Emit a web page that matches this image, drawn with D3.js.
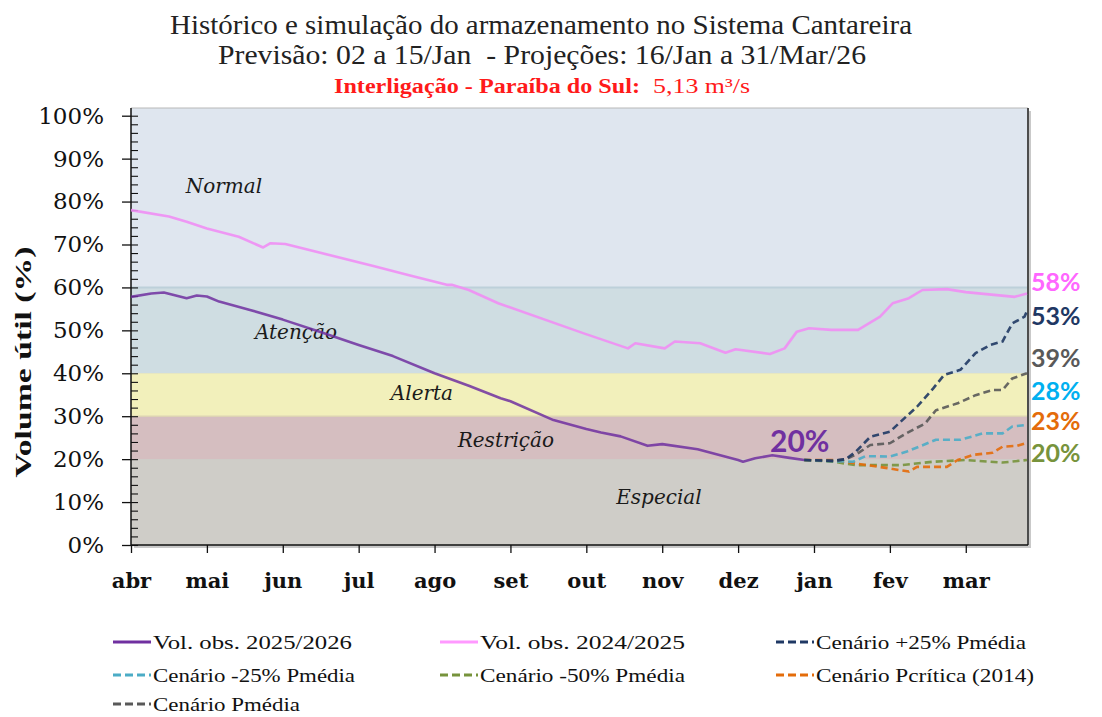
<!DOCTYPE html>
<html>
<head>
<meta charset="utf-8">
<script src="https://cdn.jsdelivr.net/npm/d3@7"></script>
<style>
  body { margin: 0; background: #fff; }
  svg { display: block; }
</style>
</head>
<body>
<script>
// ---- data ----
var monthLabels = ["abr", "mai", "jun", "jul", "ago", "set", "out", "nov", "dez", "jan", "fev", "mar"];
var yTicks = [0, 10, 20, 30, 40, 50, 60, 70, 80, 90, 100];

var zoneNames = ["Normal", "Atenção", "Alerta", "Restrição", "Especial"];
var zoneLimits = [[60, 100], [40, 60], [30, 40], [20, 30], [0, 20]];

var obs2025 = [
  ["2025-04-01", 57.8], ["2025-04-09", 58.6], ["2025-04-14", 58.8], ["2025-04-23", 57.5],
  ["2025-04-27", 58.1], ["2025-05-01", 57.9], ["2025-05-06", 56.7], ["2025-05-19", 54.7],
  ["2025-06-01", 52.5], ["2025-06-15", 49.8], ["2025-07-01", 46.6], ["2025-07-15", 44.0],
  ["2025-08-01", 40.0], ["2025-08-15", 37.1], ["2025-08-28", 34.2], ["2025-09-01", 33.5],
  ["2025-09-18", 29.1], ["2025-10-01", 27.0], ["2025-10-07", 26.2], ["2025-10-15", 25.3],
  ["2025-10-26", 23.1], ["2025-11-01", 23.5], ["2025-11-15", 22.3], ["2025-12-01", 19.8],
  ["2025-12-03", 19.4], ["2025-12-08", 20.2], ["2025-12-15", 20.9], ["2025-12-22", 20.3],
  ["2025-12-28", 19.8]
];

var obs2024 = [
  ["2025-04-01", 78.0], ["2025-04-16", 76.5], ["2025-04-23", 75.3], ["2025-05-01", 73.7],
  ["2025-05-14", 71.8], ["2025-05-24", 69.3], ["2025-05-27", 70.3], ["2025-06-02", 70.1],
  ["2025-07-07", 65.0], ["2025-07-22", 62.8], ["2025-08-06", 60.6], ["2025-08-08", 60.6],
  ["2025-08-15", 59.4], ["2025-08-27", 56.3], ["2025-09-30", 49.3], ["2025-10-18", 45.8],
  ["2025-10-21", 47.0], ["2025-11-02", 45.8], ["2025-11-06", 47.4], ["2025-11-16", 47.0],
  ["2025-11-26", 44.8], ["2025-11-30", 45.6], ["2025-12-14", 44.5], ["2025-12-20", 45.8],
  ["2025-12-25", 49.7], ["2025-12-30", 50.5], ["2026-01-08", 50.1], ["2026-01-19", 50.1],
  ["2026-01-28", 53.2], ["2026-02-02", 56.3], ["2026-02-08", 57.5], ["2026-02-13", 59.4],
  ["2026-02-22", 59.6], ["2026-03-01", 58.9], ["2026-03-21", 57.8], ["2026-03-26", 58.6]
];

var cenMais25 = [
  ["2025-12-28", 19.8], ["2026-01-09", 19.6], ["2026-01-14", 20.0], ["2026-01-18", 21.7],
  ["2026-01-24", 25.2], ["2026-02-01", 26.4], ["2026-02-07", 29.9], ["2026-02-11", 32.2],
  ["2026-02-17", 36.5], ["2026-02-21", 39.6], ["2026-02-27", 40.8], ["2026-03-05", 44.7],
  ["2026-03-11", 46.6], ["2026-03-16", 47.4], ["2026-03-20", 51.6], ["2026-03-25", 53.2],
  ["2026-03-26", 54.5]
];
var cenMenos25 = [
  ["2025-12-28", 19.8], ["2026-01-09", 19.5], ["2026-01-17", 19.4], ["2026-01-22", 20.7],
  ["2026-02-01", 20.6], ["2026-02-07", 21.7], ["2026-02-18", 24.5], ["2026-02-27", 24.5],
  ["2026-03-08", 26.0], ["2026-03-16", 26.0], ["2026-03-20", 27.6], ["2026-03-26", 28.0]
];
var cenMenos50 = [
  ["2025-12-28", 19.8], ["2026-01-09", 19.4], ["2026-01-18", 18.6], ["2026-02-05", 18.6],
  ["2026-02-17", 19.4], ["2026-03-01", 19.8], ["2026-03-16", 19.2], ["2026-03-26", 19.8]
];
var cenCritica = [
  ["2025-12-28", 19.8], ["2026-01-09", 19.8], ["2026-01-18", 19.0], ["2026-01-31", 17.9],
  ["2026-02-08", 17.1], ["2026-02-11", 18.2], ["2026-02-22", 18.2], ["2026-02-26", 19.8],
  ["2026-03-04", 21.0], ["2026-03-12", 21.5], ["2026-03-16", 22.9], ["2026-03-22", 23.1],
  ["2026-03-26", 23.8]
];
var cenMedia = [
  ["2025-12-28", 19.8], ["2026-01-09", 19.6], ["2026-01-14", 20.0], ["2026-01-18", 21.0],
  ["2026-01-24", 23.3], ["2026-02-01", 23.7], ["2026-02-07", 26.0], ["2026-02-14", 28.3],
  ["2026-02-18", 31.4], ["2026-02-26", 33.0], ["2026-03-05", 34.9], ["2026-03-12", 36.1],
  ["2026-03-16", 36.1], ["2026-03-20", 38.8], ["2026-03-26", 40.0]
];

var seriesNames = ["Vol. obs. 2025/2026", "Vol. obs. 2024/2025", "Cenário +25% Pmédia",
  "Cenário -25% Pmédia", "Cenário -50% Pmédia", "Cenário Pcrítica (2014)", "Cenário Pmédia"];
var endLabels = ["58%", "53%", "39%", "28%", "23%", "20%"];
var currentLabel = "20%";

// ---- layout / style ----
var W = 1102, H = 717;
var plotL = 131, plotR = 1028, plotT = 108, plotB = 545;

var svg = d3.select("body").append("svg")
  .attr("width", W)
  .attr("height", H);

function monthPos(s) {
  var p = s.split("-").map(Number);
  var dim = new Date(p[0], p[1], 0).getDate();
  return (p[0] - 2025) * 12 + (p[1] - 4) + (p[2] - 1) / dim;
}

var x = d3.scaleLinear().domain([0, 11.82]).range([plotL, plotR]);
var y = d3.scaleLinear().domain([0, 100]).range([plotB, 115.7]);

// title
var serif = "'Liberation Serif', serif";
svg.append("text")
  .attr("x", 541).attr("y", 34)
  .attr("text-anchor", "middle")
  .attr("font-family", serif).attr("font-size", 27)
  .attr("textLength", 742).attr("lengthAdjust", "spacingAndGlyphs")
  .attr("fill", "#222")
  .text("Histórico e simulação do armazenamento no Sistema Cantareira");
svg.append("text")
  .attr("x", 542).attr("y", 64)
  .attr("text-anchor", "middle")
  .attr("font-family", serif).attr("font-size", 27)
  .attr("textLength", 648).attr("lengthAdjust", "spacingAndGlyphs")
  .attr("fill", "#222")
  .style("white-space", "pre")
  .text("Previsão: 02 a 15/Jan  - Projeções: 16/Jan a 31/Mar/26");
svg.append("text")
  .attr("x", 334).attr("y", 93)
  .attr("font-family", serif).attr("font-size", 20).attr("font-weight", "bold")
  .attr("textLength", 306).attr("lengthAdjust", "spacingAndGlyphs")
  .attr("fill", "#ff1a1a")
  .text("Interligação - Paraíba do Sul:");
svg.append("text")
  .attr("x", 653).attr("y", 93)
  .attr("font-family", serif).attr("font-size", 21)
  .attr("textLength", 97).attr("lengthAdjust", "spacingAndGlyphs")
  .attr("fill", "#ff1a1a")
  .text("5,13 m³/s");

// plot frame shadow + zones
svg.append("rect")
  .attr("x", plotL + 3).attr("y", plotT + 3)
  .attr("width", plotR - plotL).attr("height", plotB - plotT)
  .attr("fill", "#c9c9c9");

var zoneColors = ["#dfe6ef", "#cfdde2", "#f2f0bb", "#d5bec0", "#cfcdc8"];
var zones = svg.append("g");
zoneLimits.forEach(function (z, i) {
  var top = z[1] === 100 ? plotT : y(z[1]);
  zones.append("rect")
    .attr("x", plotL).attr("y", top)
    .attr("width", plotR - plotL).attr("height", y(z[0]) - top)
    .attr("fill", zoneColors[i]);
});
zones.append("line")
  .attr("x1", plotL).attr("x2", plotR)
  .attr("y1", y(60)).attr("y2", y(60))
  .attr("stroke", "#bdd0da").attr("stroke-width", 2);
zones.append("line")
  .attr("x1", plotL).attr("x2", plotR)
  .attr("y1", y(30)).attr("y2", y(30))
  .attr("stroke", "#ddd3b4").attr("stroke-width", 1.5);

// frame border
svg.append("line")
  .attr("x1", plotL).attr("x2", plotR)
  .attr("y1", plotT).attr("y2", plotT)
  .attr("stroke", "#b8b8b8").attr("stroke-width", 1);
svg.append("line")
  .attr("x1", plotR).attr("x2", plotR)
  .attr("y1", plotT).attr("y2", plotB)
  .attr("stroke", "#4d4d4d").attr("stroke-width", 2);

// zone labels
var zoneLabelPos = [[1.225, 83.6], [2.174, 49.6], [3.834, 35.4], [4.94, 24.5], [6.957, 11.2]];
zoneNames.forEach(function (n, i) {
  svg.append("text")
    .attr("x", x(zoneLabelPos[i][0])).attr("y", y(zoneLabelPos[i][1]))
    .attr("text-anchor", "middle").attr("dy", "0.35em")
    .attr("font-family", "'DejaVu Serif', serif").attr("font-style", "italic")
    .attr("font-size", 20).attr("fill", "#1a1a1a")
    .text(n);
});

// axes
var yAxis = svg.append("g")
  .attr("transform", "translate(" + plotL + ",0)")
  .call(d3.axisLeft(y).tickValues(yTicks).tickSize(9).tickPadding(18)
    .tickFormat(function (d) { return d + "%"; }));
yAxis.select(".domain").remove();
yAxis.selectAll("text")
  .attr("font-family", "'DejaVu Serif', serif").attr("font-size", 23).attr("fill", "#111");
yAxis.selectAll("line").attr("stroke", "#111").attr("stroke-width", 1.3);

var yMinor = svg.append("g")
  .attr("transform", "translate(" + plotL + ",0)")
  .call(d3.axisRight(y).tickValues(d3.range(0, 101, 2)).tickSize(7).tickFormat(""));
yMinor.select(".domain").remove();
yMinor.selectAll("line").attr("stroke", "#111").attr("stroke-width", 1.1);

svg.append("line")
  .attr("x1", plotL).attr("x2", plotL)
  .attr("y1", plotT).attr("y2", plotB)
  .attr("stroke", "#111").attr("stroke-width", 1.5);

var xAxis = svg.append("g")
  .attr("transform", "translate(0," + plotB + ")")
  .call(d3.axisBottom(x).tickValues(d3.range(12)).tickSize(8).tickPadding(20)
    .tickFormat(function (i) { return monthLabels[i]; }));
xAxis.select(".domain")
  .attr("d", "M" + plotL + ",0H" + plotR)
  .attr("stroke", "#111").attr("stroke-width", 1.5);
xAxis.selectAll("line").attr("stroke", "#111").attr("stroke-width", 1.3);
xAxis.selectAll("text")
  .attr("font-family", "'DejaVu Serif', serif").attr("font-weight", "bold")
  .attr("font-size", 21).attr("fill", "#111");

svg.append("text")
  .attr("transform", "translate(31,362) rotate(-90)")
  .attr("text-anchor", "middle")
  .attr("font-family", serif).attr("font-weight", "bold").attr("font-size", 24)
  .attr("textLength", 231).attr("lengthAdjust", "spacingAndGlyphs")
  .attr("fill", "#111")
  .text("Volume útil (%)");

// series
var line = d3.line()
  .x(function (d) { return x(monthPos(d[0])); })
  .y(function (d) { return y(d[1]); });

var seriesData = [obs2025, obs2024, cenMais25, cenMenos25, cenMenos50, cenCritica, cenMedia];
var seriesColors = ["#7030a0", "#f08ef4", "#1f3864", "#4bacc6", "#77933c", "#e46c0a", "#595959"];
var seriesDashed = [false, false, true, true, true, true, true];
var drawOrder = [1, 0, 4, 5, 3, 6, 2];

drawOrder.forEach(function (i) {
  svg.append("path")
    .datum(seriesData[i])
    .attr("d", line)
    .attr("fill", "none")
    .attr("stroke", seriesColors[i])
    .attr("stroke-width", 2.6)
    .attr("stroke-opacity", i === 0 ? 0.85 : 0.9)
    .attr("stroke-dasharray", seriesDashed[i] ? "7,4" : null)
    .attr("stroke-linejoin", "round");
});

// value labels
svg.append("text")
  .attr("x", 770).attr("y", 452)
  .attr("font-family", "Lato, sans-serif").attr("font-weight", "bold")
  .attr("font-size", 30).attr("fill", "#7030a0")
  .text(currentLabel);

var endColors = ["#ff66ff", "#1f3864", "#595959", "#00b0f0", "#e46c0a", "#77933c"];
var endLabelPos = [61.3, 53.3, 43.6, 35.9, 28.9, 21.4];
endLabels.forEach(function (t, i) {
  svg.append("text")
    .attr("x", 1031).attr("y", y(endLabelPos[i]))
    .attr("dy", "0.36em")
    .attr("font-family", "Lato, sans-serif").attr("font-weight", "bold")
    .attr("font-size", 25).attr("fill", endColors[i])
    .text(t);
});

// legend
var legendCols = [113, 440, 776], legendRows = [642, 675, 704];
var legendTextW = [199, 205, 210, 202, 205, 218, 147];
seriesNames.forEach(function (n, i) {
  var lx = legendCols[i % 3], ly = legendRows[Math.floor(i / 3)];
  var g = svg.append("g").attr("transform", "translate(" + lx + "," + ly + ")");
  g.append("line")
    .attr("x1", 0).attr("x2", 38)
    .attr("stroke", i === 1 ? "#ff99ff" : seriesColors[i])
    .attr("stroke-width", 3)
    .attr("stroke-dasharray", seriesDashed[i] ? "8,4" : null);
  g.append("text")
    .attr("x", 40).attr("dy", "0.35em")
    .attr("font-family", serif).attr("font-size", 19)
    .attr("textLength", legendTextW[i]).attr("lengthAdjust", "spacingAndGlyphs")
    .attr("fill", "#111")
    .text(n);
});
</script>
</body>
</html>
